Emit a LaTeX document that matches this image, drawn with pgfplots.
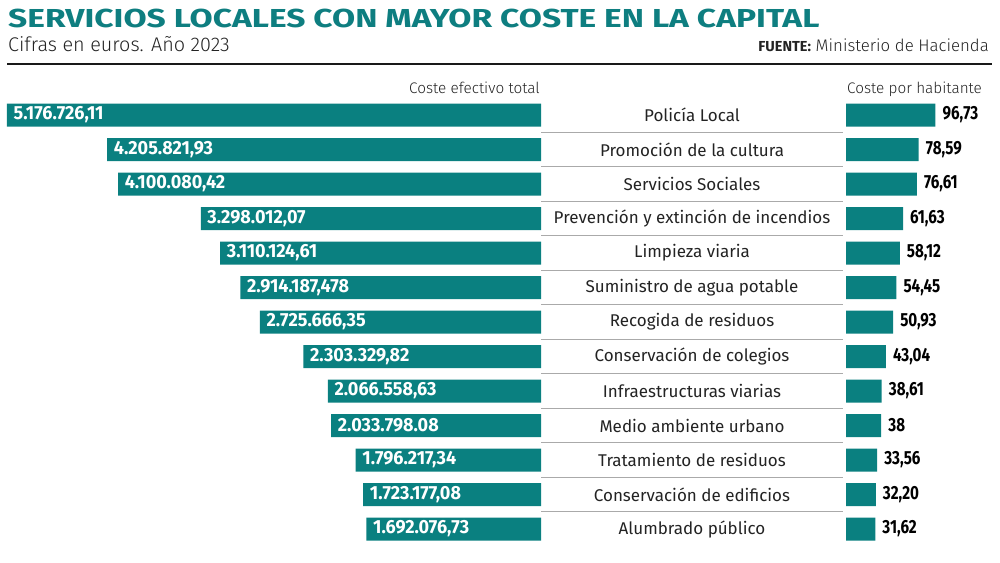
\documentclass[border=0pt]{standalone}
\usepackage{pgfplots}
\pgfplotsset{compat=1.18}
\usepackage{pgfplotstable}
\usepackage{fontspec}
\setmainfont{Fira Sans}
\newfontfamily\lightfont{Fira Sans Light}
\newfontfamily\boldfont{Fira Sans Bold}
\newfontfamily\titlefont{Fira Sans Bold}[FakeStretch=1.29]
\newfontfamily\leftval{Fira Sans Bold}[FakeStretch=0.95]
\newfontfamily\rightval{Fira Sans Bold}[FakeStretch=0.8]
\definecolor{tealbar}{RGB}{10,128,128}
\definecolor{titleteal}{RGB}{14,126,128}
\definecolor{sepgray}{RGB}{170,170,170}
\definecolor{txt}{RGB}{35,35,35}

\pgfplotstableread[col sep=semicolon]{
y;total;label;hab;hablabel;name
0;5176726.11;5.176.726,11;96.73;96,73;Policía Local
1;4205821.93;4.205.821,93;78.59;78,59;Promoción de la cultura
2;4100080.42;4.100.080,42;76.61;76,61;Servicios Sociales
3;3298012.07;3.298.012,07;61.63;61,63;Prevención y extinción de incendios
4;3110124.61;3.110.124,61;58.12;58,12;Limpieza viaria
5;2914187.478;2.914.187,478;54.45;54,45;Suministro de agua potable
6;2725666.35;2.725.666,35;50.93;50,93;Recogida de residuos
7;2303329.82;2.303.329,82;43.04;43,04;Conservación de colegios
8;2066558.63;2.066.558,63;38.61;38,61;Infraestructuras viarias
9;2033798.08;2.033.798.08;38;38;Medio ambiente urbano
10;1796217.34;1.796.217,34;33.56;33,56;Tratamiento de residuos
11;1723177.08;1.723.177,08;32.20;32,20;Conservación de edificios
12;1692076.73;1.692.076,73;31.62;31,62;Alumbrado público
}\data

\begin{document}
\begin{tikzpicture}
\path[use as bounding box] (0pt,0pt) rectangle (1000pt,-562pt);

% titles
\node[anchor=base west, inner sep=0pt, text=titleteal, font=\titlefont\fontsize{26}{26}\selectfont] at (8pt,-27.3pt) {SERVICIOS LOCALES CON MAYOR COSTE EN LA CAPITAL};
\node[anchor=base west, inner sep=0pt, text=txt, font=\lightfont\fontsize{19.8}{19.8}\selectfont] at (8pt,-51pt) {Cifras en euros. Año 2023};
\node[anchor=base east, inner sep=0pt, text=txt, font=\lightfont\fontsize{16.8}{16.8}\selectfont] at (989pt,-51.7pt) {{\boldfont\fontsize{14.5}{14.5}\selectfont FUENTE:} Ministerio de Hacienda};
\draw[line width=2pt, black!90] (7pt,-63.5pt) -- (992pt,-63.5pt);
\node[anchor=base east, inner sep=0pt, text=txt, font=\lightfont\fontsize{15.3}{15.3}\selectfont] at (540pt,-93.7pt) {Coste efectivo total};
\node[anchor=base west, inner sep=0pt, text=txt, font=\lightfont\fontsize{15.3}{15.3}\selectfont] at (847pt,-93.7pt) {Coste por habitante};

% left panel
\begin{axis}[
  at={(274pt,-322pt)}, anchor=center,
  scale only axis, width=534pt, height=448.5pt,
  xbar, bar width=23pt, bar shift=0pt,
  x dir=reverse, y dir=reverse,
  xmin=0, xmax=5176726.11, ymin=-0.5, ymax=12.5,
  hide axis, clip=false,
  nodes near coords, point meta=explicit symbolic,
  every node near coord/.style={anchor=west, xshift=6.5pt, inner sep=0pt, text=white, font=\leftval\fontsize{19}{19}\selectfont},
]
\addplot[fill=tealbar, draw=none] table[x=total, y=y, meta=label]{\data};
\end{axis}

% middle labels
\begin{axis}[
  at={(692pt,-322pt)}, anchor=center,
  scale only axis, width=302pt, height=448.5pt,
  xmin=0, xmax=1, ymin=-0.5, ymax=12.5, y dir=reverse,
  axis line style={draw=none}, tick style={draw=none},
  xtick=\empty, ytick={0,...,12},
  yticklabels from table={\data}{name},
  yticklabel style={anchor=center, xshift=151pt, inner sep=0pt, text=txt, font=\fontsize{17}{17}\selectfont},
  minor ytick={0.5,1.5,...,11.5}, yminorgrids,
  minor grid style={sepgray, line width=1.3pt},
  major tick length=0pt, minor tick length=0pt,
]
\end{axis}

% right panel
\begin{axis}[
  at={(892.25pt,-322pt)}, anchor=center,
  scale only axis, width=92.5pt, height=448.5pt,
  xbar, bar width=23pt, bar shift=0pt,
  y dir=reverse,
  xmin=0, xmax=100, ymin=-0.5, ymax=12.5,
  hide axis, clip=false,
  nodes near coords, point meta=explicit symbolic,
  every node near coord/.style={anchor=west, xshift=7pt, inner sep=0pt, text=black, font=\rightval\fontsize{19}{19}\selectfont},
]
\addplot[fill=tealbar, draw=none] table[x=hab, y=y, meta=hablabel]{\data};
\end{axis}
\end{tikzpicture}
\end{document}
